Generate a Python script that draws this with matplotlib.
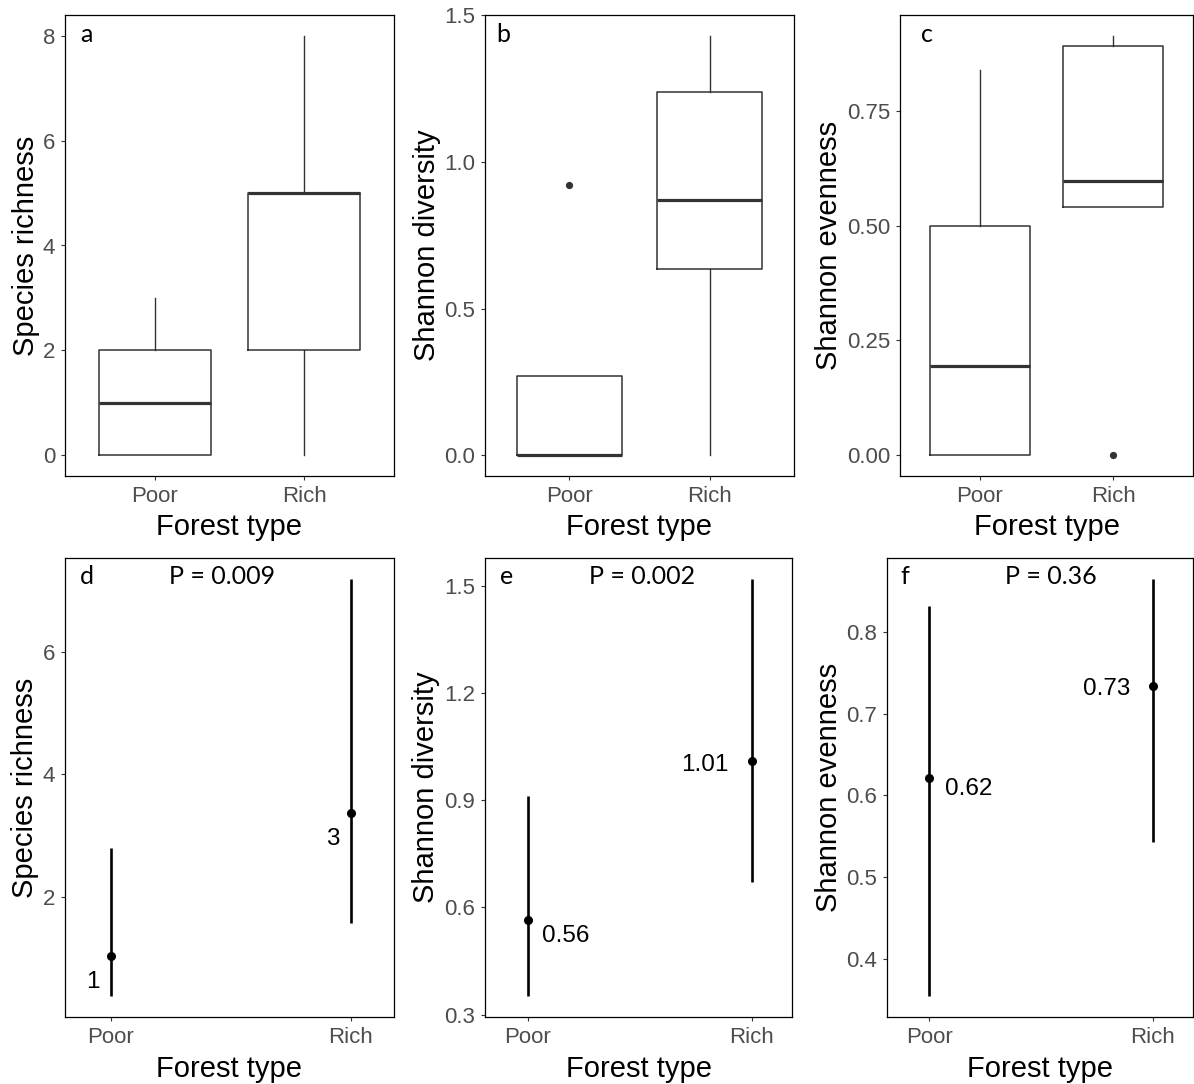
import matplotlib
matplotlib.use("Agg")
import matplotlib.pyplot as plt

W, H, DPI = 1194, 1084, 100

groups = ["Poor", "Rich"]

# top row: box statistics per forest type
sr_q1 = [0, 2]
sr_med = [1, 5]
sr_q3 = [2, 5]
sr_lo = [0, 0]
sr_hi = [3, 8]
sr_out = [[], []]

sd_q1 = [0, 0.635]
sd_med = [0, 0.87]
sd_q3 = [0.27, 1.24]
sd_lo = [0, 0]
sd_hi = [0.27, 1.43]
sd_out = [[0.92], []]

se_q1 = [0, 0.54]
se_med = [0.195, 0.597]
se_q3 = [0.50, 0.892]
se_lo = [0, 0.54]
se_hi = [0.84, 0.914]
se_out = [[], [0.0]]

# bottom row: estimate with interval
sr_mean = [1.03, 3.37]
sr_lower = [0.38, 1.58]
sr_upper = [2.79, 7.19]
sr_text = ["1", "3"]

sd_mean = [0.565, 1.011]
sd_lower = [0.352, 0.672]
sd_upper = [0.912, 1.519]
sd_text = ["0.56", "1.01"]

se_mean = [0.621, 0.734]
se_lower = [0.354, 0.543]
se_upper = [0.832, 0.865]
se_text = ["0.62", "0.73"]

p_values = ["P = 0.009", "P = 0.002", "P = 0.36"]
letters = ["a", "b", "c", "d", "e", "f"]
ylabels = ["Species richness", "Shannon diversity", "Shannon evenness"]

sr_ticks = [0, 2, 4, 6, 8]
sd_ticks = [0.0, 0.5, 1.0, 1.5]
sd_ticklabels = ["0.0", "0.5", "1.0", "1.5"]
se_ticks = [0.0, 0.25, 0.50, 0.75]
se_ticklabels = ["0.00", "0.25", "0.50", "0.75"]
sr2_ticks = [2, 4, 6]
sd2_ticks = [0.3, 0.6, 0.9, 1.2, 1.5]
se2_ticks = [0.4, 0.5, 0.6, 0.7, 0.8]

TICK_FONT = "Liberation Sans"
TAG_FONT = "Lato"
GREY = "#333333"

fig = plt.figure(figsize=(W / DPI, H / DPI), dpi=DPI)


def px_axes(x0, y0, x1, y1):
    return fig.add_axes([x0 / W, 1 - y1 / H, (x1 - x0) / W, (y1 - y0) / H])


def style(ax, ylab, ylab_x, ticks, ticklabels=None):
    for s in ax.spines.values():
        s.set_color("black")
        s.set_linewidth(0.9)
    ax.tick_params(length=3, width=0.8, color=GREY, labelcolor="#4D4D4D",
                   labelsize=16, pad=4)
    ax.set_yticks(ticks)
    if ticklabels is not None:
        ax.set_yticklabels(ticklabels)
    for lab in ax.get_xticklabels() + ax.get_yticklabels():
        lab.set_fontfamily(TICK_FONT)
    ax.set_ylabel(ylab, fontsize=21, family=TICK_FONT, color="black")
    ax.set_xlabel("Forest type", fontsize=21, family=TICK_FONT, color="black")
    ax.yaxis.set_label_coords(ylab_x, 0.5)


def expand(lo, hi):
    pad = (hi - lo) * 0.05
    return lo - pad, hi + pad


def boxpanel(ax, q1, med, q3, lo, hi, out, letter, ylab, ylab_x, ticks, ticklabels, letter_x):
    stats = []
    for i in range(2):
        stats.append(dict(q1=q1[i], med=med[i], q3=q3[i], whislo=lo[i],
                          whishi=hi[i], fliers=out[i], label=groups[i]))
    ax.bxp(stats, positions=[1, 2], widths=0.75, showcaps=False,
           boxprops=dict(color=GREY, linewidth=1.1),
           whiskerprops=dict(color=GREY, linewidth=1.0),
           medianprops=dict(color=GREY, linewidth=2.3),
           flierprops=dict(marker="o", markerfacecolor=GREY, markeredgecolor=GREY,
                           markersize=4.2))
    allv = lo + hi + [v for o in out for v in o]
    ax.set_ylim(*expand(min(allv), max(allv)))
    ax.set_xlim(0.4, 2.6)
    ax.set_xticks([1, 2])
    ax.set_xticklabels(groups)
    style(ax, ylab, ylab_x, ticks, ticklabels)
    ax.xaxis.set_label_coords(0.5, -0.08)
    ax.text(letter_x, 0.958, letter, transform=ax.transAxes, fontsize=18,
            family=TAG_FONT, ha="left", va="center")


def cipanel(ax, mean, lower, upper, texts, offsets, letter, pval, ylab, ylab_x, ticks,
            letter_x, p_x):
    x = [1, 2]
    yerr = [[m - l for m, l in zip(mean, lower)], [u - m for m, u in zip(mean, upper)]]
    ax.errorbar(x, mean, yerr=yerr, fmt="o", color="black", ecolor="black",
                elinewidth=1.9, markersize=5.5, capsize=0)
    for xi, m, t, (dx, dy, ha) in zip(x, mean, texts, offsets):
        ax.annotate(t, (xi, m), xytext=(dx, dy), textcoords="offset pixels",
                    ha=ha, va="center", fontsize=17.5, family=TICK_FONT)
    ax.set_ylim(*expand(min(lower), max(upper)))
    ax.set_xlim(0.81, 2.18)
    ax.set_xticks(x)
    ax.set_xticklabels(groups)
    style(ax, ylab, ylab_x, ticks)
    ax.xaxis.set_label_coords(0.5, -0.083)
    ax.text(letter_x, 0.96, letter, transform=ax.transAxes, fontsize=18,
            family=TAG_FONT, ha="left", va="center")
    ax.text(p_x, 0.96, pval, transform=ax.transAxes, fontsize=18,
            family=TAG_FONT, ha="center", va="center")


ax_a = px_axes(65, 15, 394, 476)
ax_b = px_axes(485, 15, 794, 476)
ax_c = px_axes(900, 15, 1193, 476)
ax_d = px_axes(65, 558, 394, 1017)
ax_e = px_axes(485, 558, 792, 1017)
ax_f = px_axes(887, 558, 1193, 1017)

boxpanel(ax_a, sr_q1, sr_med, sr_q3, sr_lo, sr_hi, sr_out, letters[0], ylabels[0],
         -0.076, sr_ticks, None, 0.045)
boxpanel(ax_b, sd_q1, sd_med, sd_q3, sd_lo, sd_hi, sd_out, letters[1], ylabels[1],
         -0.142, sd_ticks, sd_ticklabels, 0.035)
boxpanel(ax_c, se_q1, se_med, se_q3, se_lo, se_hi, se_out, letters[2], ylabels[2],
         -0.194, se_ticks, se_ticklabels, 0.07)

cipanel(ax_d, sr_mean, sr_lower, sr_upper, sr_text,
        [(-18, -26, "center"), (-18, -26, "center")],
        letters[3], p_values[0], ylabels[0], -0.079, sr2_ticks, 0.045, 0.477)
cipanel(ax_e, sd_mean, sd_lower, sd_upper, sd_text,
        [(14, -16, "left"), (-23, -4, "right")],
        letters[4], p_values[1], ylabels[1], -0.145, sd2_ticks, 0.05, 0.51)
cipanel(ax_f, se_mean, se_lower, se_upper, se_text,
        [(16, -11, "left"), (-22, -3, "right")],
        letters[5], p_values[2], ylabels[2], -0.144, se2_ticks, 0.045, 0.536)

fig.savefig("out.png", dpi=DPI)
